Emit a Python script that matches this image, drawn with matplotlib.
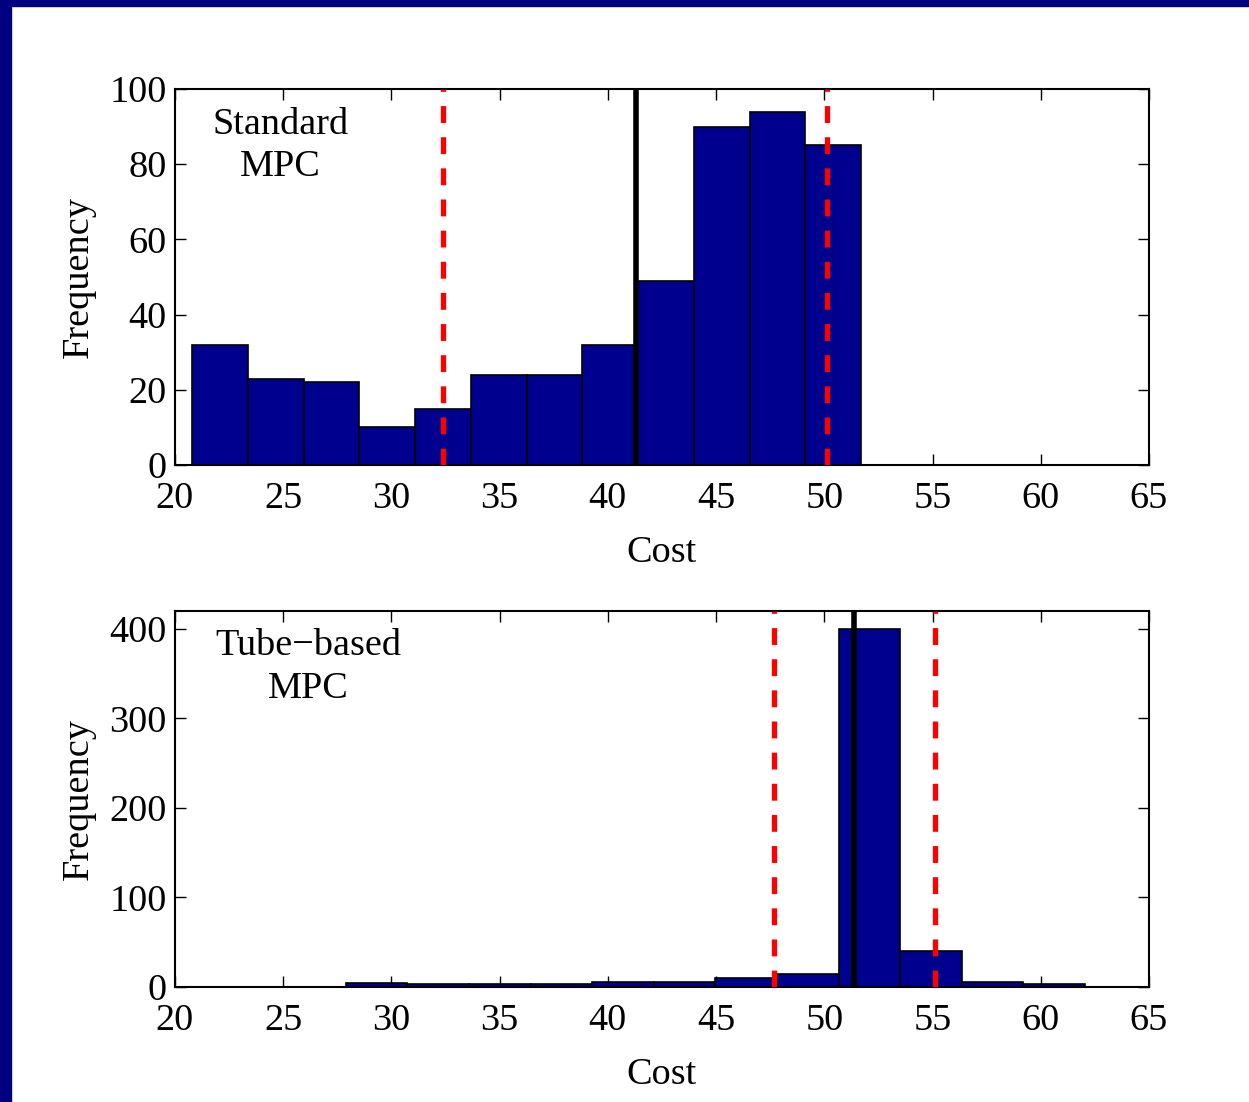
import numpy as np
import matplotlib
matplotlib.use("Agg")
import matplotlib.pyplot as plt
from matplotlib.patches import Rectangle

# Standard MPC histogram
std_start = 20.79
std_width = 2.576
std_counts = [32, 23, 22, 10, 15, 24, 24, 32, 49, 90, 94, 85]
std_mean = 41.30
std_bounds = [32.38, 50.13]

# Tube-based MPC histogram
tube_start = 27.89
tube_width = 2.846
tube_counts = [4, 3, 3, 3, 6, 6, 10, 15, 400, 40, 5, 3]
tube_mean = 51.38
tube_bounds = [47.68, 55.12]

xticks = [20, 25, 30, 35, 40, 45, 50, 55, 60, 65]
std_yticks = [0, 20, 40, 60, 80, 100]
tube_yticks = [0, 100, 200, 300, 400]

plt.rcParams['font.family'] = ['Liberation Serif', 'DejaVu Serif']
FS = 27.5
BAR = '#00008F'

fig = plt.figure(figsize=(12.49, 11.02), dpi=100)
fig.patches.append(Rectangle((0, 1 - 6/1102), 1, 6/1102, transform=fig.transFigure,
                             color='#000080', zorder=-10))
fig.patches.append(Rectangle((0, 0), 11/1249, 1, transform=fig.transFigure,
                             color='#000080', zorder=-10))

def panel(rect, start, width, counts, mean, bounds, ylim, yticks, label, txy):
    ax = fig.add_axes(rect)
    edges = start + width * np.arange(len(counts) + 1)
    ax.bar(edges[:-1], counts, width=width, align='edge', color=BAR,
           edgecolor='black', linewidth=1.2, zorder=2)
    ax.axvline(mean, color='black', lw=4, zorder=3)
    for b in bounds:
        ax.axvline(b, color='red', lw=3.8, ls=(0, (3.2, 2.7)), zorder=3)
    ax.set_xlim(20, 65)
    ax.set_ylim(*ylim)
    ax.set_xticks(xticks)
    ax.set_yticks(yticks)
    ax.tick_params(direction='in', top=True, right=True, length=8, width=1,
                   labelsize=FS)
    ax.tick_params(axis='x', pad=12)
    ax.tick_params(axis='y', pad=6)
    for s in ax.spines.values():
        s.set_linewidth(1.5)
    ax.set_xlabel('Cost', fontsize=FS, labelpad=14)
    ax.set_ylabel('Frequency', fontsize=FS, labelpad=10)
    ax.text(txy[0], txy[1], label, transform=ax.transAxes, ha='center', va='top',
            fontsize=FS, linespacing=1.3)
    return ax

panel([0.1401, 0.5780, 0.7798, 0.3412], std_start, std_width, std_counts,
      std_mean, std_bounds, (0, 100), std_yticks, 'Standard\nMPC', (0.108, 0.952))
panel([0.1401, 0.1044, 0.7798, 0.3412], tube_start, tube_width, tube_counts,
      tube_mean, tube_bounds, (0, 420), tube_yticks, 'Tube\u2212based\nMPC', (0.137, 0.952))

fig.savefig('out.png', dpi=100, facecolor='white')
